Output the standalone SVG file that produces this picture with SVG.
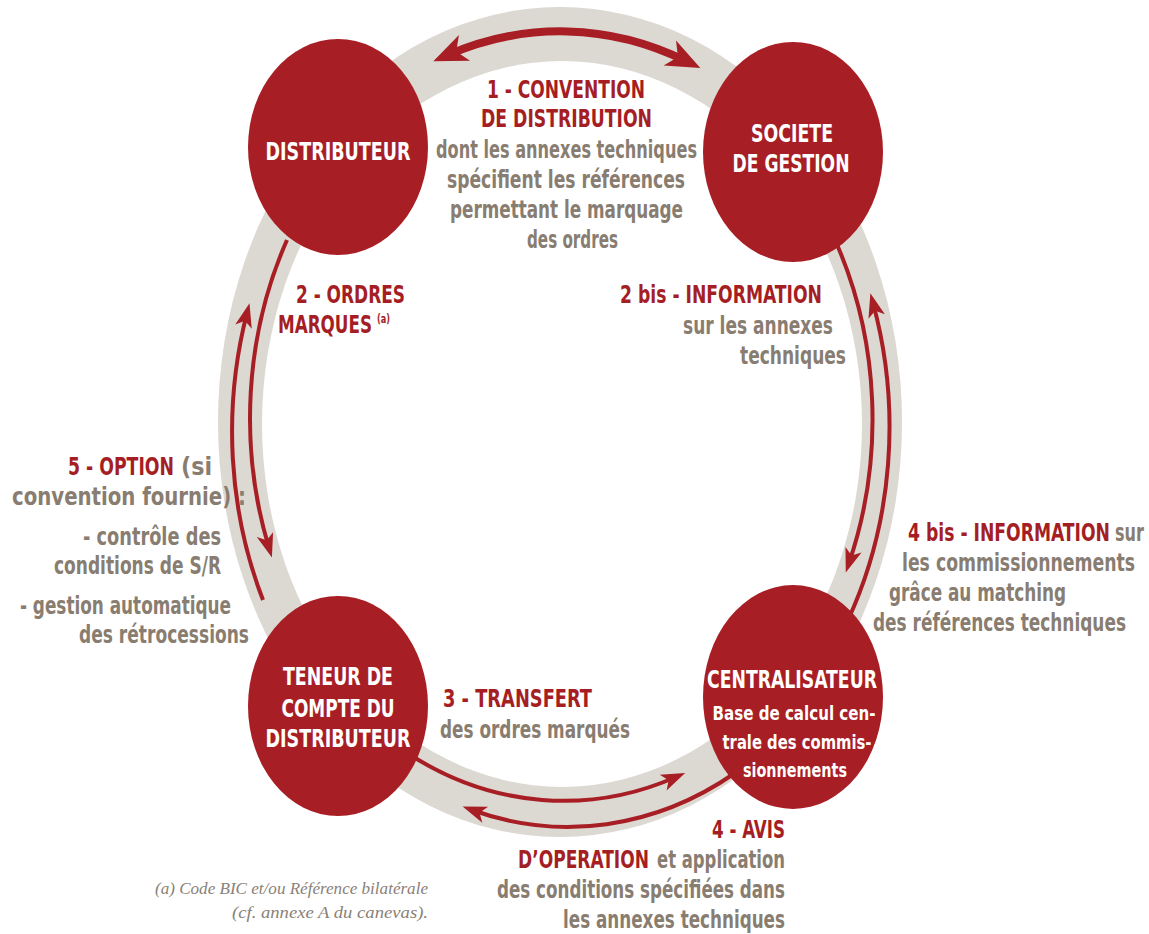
<svg xmlns="http://www.w3.org/2000/svg" width="1149" height="934" viewBox="0 0 1149 934">
<defs>
<style>
.node{fill:#a81e25}
.t{font-family:"Liberation Sans Narrow","DejaVu Sans Condensed","Liberation Sans",sans-serif;font-weight:bold}
.nt{fill:#fff;font-size:25px;text-anchor:middle}
.ns{fill:#fff;font-size:20px;text-anchor:middle}
.lb{font-size:25px}
.r{fill:#a51e24}
.g{fill:#887d70}
.arc{fill:none;stroke:#a81e25;stroke-width:4}
.fn{font-family:"Liberation Serif",serif;font-style:italic;font-size:17px;fill:#8a8178;text-anchor:end}
</style>
<marker id="ah" markerUnits="userSpaceOnUse" orient="auto-start-reverse" viewBox="-20 -15 40 30" markerWidth="40" markerHeight="30" refX="0" refY="0">
<path d="M10,0 L-14,-8.5 L-8,0 L-14,8.5 Z" fill="#a81e25"/>
</marker>
<marker id="ahb" markerUnits="userSpaceOnUse" orient="auto-start-reverse" viewBox="-25 -18 50 36" markerWidth="50" markerHeight="36" refX="0" refY="0">
<path d="M16,0 L-18,-14 L-9,0 L-18,14 Z" fill="#a81e25"/>
</marker>
</defs>
<rect width="1149" height="934" fill="#fff"/>
<g id="ring">
<ellipse cx="560" cy="422" rx="342" ry="415" fill="#dcd8d2"/>
<ellipse cx="562" cy="424" rx="300" ry="363" fill="#fff"/>
</g>
<g id="connectors">
<path class="arc" style="stroke-width:8" d="M 448 55 A 330 395 0 0 1 686 61" marker-start="url(#ahb)" marker-end="url(#ahb)"/>
<path class="arc" d="M 263 600 A 329 398 0 0 1 247 313" marker-end="url(#ah)"/>
<path class="arc" d="M 287 240 A 311 377 0 0 0 269 548" marker-end="url(#ah)"/>
<path class="arc" d="M 835 240 A 310 376 0 0 1 849 563" marker-end="url(#ah)"/>
<path class="arc" d="M 848 620 A 326 395 0 0 0 873 303" marker-end="url(#ah)"/>
<path class="arc" d="M 412 756 A 320 375 0 0 0 676 777" marker-end="url(#ah)"/>
<path class="arc" d="M 735 773 A 335 404 0 0 1 472 810" marker-end="url(#ah)"/>
</g>
<g id="distributeur">
<ellipse class="node" cx="338" cy="147" rx="90" ry="108"/>
<text class="t nt" x="338" y="160" textLength="145" lengthAdjust="spacingAndGlyphs">DISTRIBUTEUR</text>
</g>
<g id="societe-gestion">
<ellipse class="node" cx="793" cy="152" rx="90" ry="110"/>
<text class="t nt" x="792" y="142" textLength="82" lengthAdjust="spacingAndGlyphs">SOCIETE</text>
<text class="t nt" x="791" y="172" textLength="117" lengthAdjust="spacingAndGlyphs">DE GESTION</text>
</g>
<g id="teneur-compte">
<ellipse class="node" cx="338" cy="706" rx="90" ry="110"/>
<text class="t nt" x="338" y="685" textLength="110" lengthAdjust="spacingAndGlyphs">TENEUR DE</text>
<text class="t nt" x="338" y="717" textLength="113" lengthAdjust="spacingAndGlyphs">COMPTE DU</text>
<text class="t nt" x="338" y="747" textLength="145" lengthAdjust="spacingAndGlyphs">DISTRIBUTEUR</text>
</g>
<g id="centralisateur">
<ellipse class="node" cx="793" cy="697" rx="90" ry="112"/>
<text class="t nt" x="792" y="688" textLength="170" lengthAdjust="spacingAndGlyphs">CENTRALISATEUR</text>
<text class="t ns" x="794" y="720" textLength="163" lengthAdjust="spacingAndGlyphs">Base de calcul cen-</text>
<text class="t ns" x="797" y="749" textLength="149" lengthAdjust="spacingAndGlyphs">trale des commis-</text>
<text class="t ns" x="795" y="777" textLength="104" lengthAdjust="spacingAndGlyphs">sionnements</text>
</g>
<g id="labels">
<text class="t lb r" x="487" y="98" textLength="158" lengthAdjust="spacingAndGlyphs">1 - CONVENTION</text>
<text class="t lb r" x="481" y="127" textLength="171" lengthAdjust="spacingAndGlyphs">DE DISTRIBUTION</text>
<text class="t lb g" x="436" y="158" textLength="261" lengthAdjust="spacingAndGlyphs">dont les annexes techniques</text>
<text class="t lb g" x="447" y="188" textLength="238" lengthAdjust="spacingAndGlyphs">spécifient les références</text>
<text class="t lb g" x="450" y="218" textLength="233" lengthAdjust="spacingAndGlyphs">permettant le marquage</text>
<text class="t lb g" x="527" y="248" textLength="91" lengthAdjust="spacingAndGlyphs">des ordres</text>

<text class="t lb r" x="296" y="303" textLength="109" lengthAdjust="spacingAndGlyphs">2 - ORDRES</text>
<text class="t lb r" x="278" y="333" textLength="94" lengthAdjust="spacingAndGlyphs">MARQUES</text>
<text class="t r" x="377" y="323" font-size="12" textLength="13" lengthAdjust="spacingAndGlyphs">(a)</text>

<text class="t lb r" x="620" y="303" textLength="202" lengthAdjust="spacingAndGlyphs">2 bis - INFORMATION</text>
<text class="t lb g" x="683" y="334" textLength="150" lengthAdjust="spacingAndGlyphs">sur les annexes</text>
<text class="t lb g" x="740" y="364" textLength="106" lengthAdjust="spacingAndGlyphs">techniques</text>

<text class="t lb r" x="68" y="475" textLength="106" lengthAdjust="spacingAndGlyphs">5 - OPTION</text>
<text class="t lb g" x="181" y="475" textLength="31" lengthAdjust="spacingAndGlyphs">(si</text>
<text class="t lb g" x="12" y="505" textLength="234" lengthAdjust="spacingAndGlyphs">convention fournie) :</text>
<text class="t lb g" x="83" y="545" textLength="138" lengthAdjust="spacingAndGlyphs">- contrôle des</text>
<text class="t lb g" x="54" y="574" textLength="167" lengthAdjust="spacingAndGlyphs">conditions de S/R</text>
<text class="t lb g" x="20" y="614" textLength="211" lengthAdjust="spacingAndGlyphs">- gestion automatique</text>
<text class="t lb g" x="79" y="643" textLength="170" lengthAdjust="spacingAndGlyphs">des rétrocessions</text>

<text class="t lb r" x="908" y="541" textLength="202" lengthAdjust="spacingAndGlyphs">4 bis - INFORMATION</text>
<text class="t lb g" x="1115" y="541" textLength="29" lengthAdjust="spacingAndGlyphs">sur</text>
<text class="t lb g" x="902" y="571" textLength="233" lengthAdjust="spacingAndGlyphs">les commissionnements</text>
<text class="t lb g" x="889" y="601" textLength="177" lengthAdjust="spacingAndGlyphs">grâce au matching</text>
<text class="t lb g" x="873" y="631" textLength="253" lengthAdjust="spacingAndGlyphs">des références techniques</text>

<text class="t lb r" x="443" y="707" textLength="149" lengthAdjust="spacingAndGlyphs">3 - TRANSFERT</text>
<text class="t lb g" x="440" y="738" textLength="190" lengthAdjust="spacingAndGlyphs">des ordres marqués</text>

<text class="t lb r" x="712" y="838" textLength="73" lengthAdjust="spacingAndGlyphs">4 - AVIS</text>
<text class="t lb r" x="518" y="868" textLength="131" lengthAdjust="spacingAndGlyphs">D’OPERATION</text>
<text class="t lb g" x="657" y="868" textLength="128" lengthAdjust="spacingAndGlyphs">et application</text>
<text class="t lb g" x="497" y="898" textLength="288" lengthAdjust="spacingAndGlyphs">des conditions spécifiées dans</text>
<text class="t lb g" x="563" y="928" textLength="222" lengthAdjust="spacingAndGlyphs">les annexes techniques</text>

<text class="fn" x="428" y="894" textLength="273" lengthAdjust="spacingAndGlyphs">(a) Code BIC et/ou Référence bilatérale</text>
<text class="fn" x="428" y="918" textLength="196" lengthAdjust="spacingAndGlyphs">(cf. annexe A du canevas).</text>
</g>
</svg>
